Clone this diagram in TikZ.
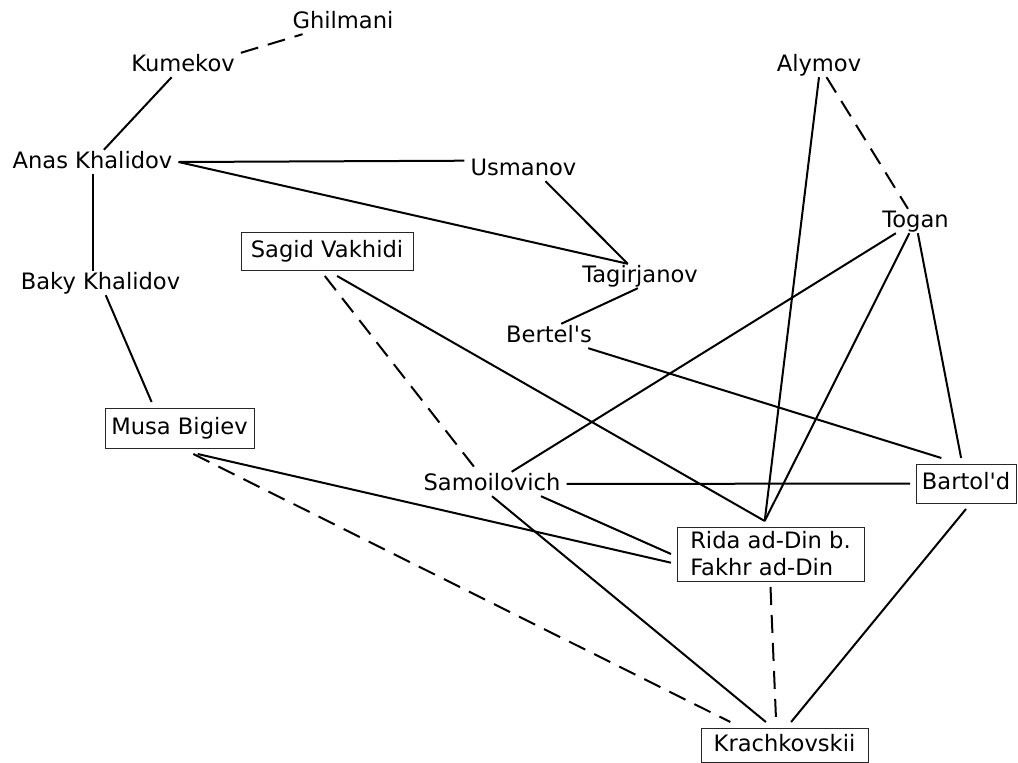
\documentclass[tikz,border=0pt]{standalone}
\usepackage{fontspec}
\setmainfont{DejaVu Sans}[Ligatures=TeXOff]
\usepackage{tikz}

\begin{document}
\begin{tikzpicture}[
        x=1pt, y=-1pt,
        person/.style={inner xsep=6pt, inner ysep=2pt, text height=16pt, text depth=4pt,
                       font=\fontsize{22.6}{27}\selectfont},
        boxed/.style={draw=black!85, line width=0.9pt, inner sep=0pt, outer sep=6pt,
                      font=\fontsize{22.6}{27}\selectfont},
        link/.style={line width=2pt},
        dlink/.style={link, dash pattern=on 18pt off 10pt}
    ]
        \useasboundingbox (0,0) rectangle (1018,763);
        \node[person] (ghilmani) at (343,22) {Ghilmani};
        \node[person] (kumekov) at (183,65) {Kumekov};
        \node[person] (alymov) at (819,65) {Alymov};
        \node[person] (anas) at (92.5,162) {Anas Khalidov};
        \node[person] (usmanov) at (523.5,169) {Usmanov};
        \node[person] (togan) at (915.5,221) {Togan};
        \node[person, boxed, minimum width=172pt, minimum height=38pt] (sagid) at (327,251) {Sagid Vakhidi};
        \node[person] (tagirjanov) at (640,276) {Tagirjanov};
        \node[person] (baky) at (100.5,283) {Baky Khalidov};
        \node[person] (bertels) at (549,336) {Bertel's};
        \node[person, boxed, minimum width=149pt, minimum height=40pt] (musa) at (179.5,428) {Musa Bigiev};
        \node[person] (samoilovich) at (492,484) {Samoilovich};
        \node[person, boxed, minimum width=100pt, minimum height=39pt] (bartold) at (966,483.5) {Bartol'd};
        \node[boxed, align=left, minimum width=187pt, minimum height=54pt] (rida) at (770.5,554) {Rida ad-Din b.\\Fakhr ad-Din};
        \node[person, boxed, minimum width=167pt, minimum height=34pt] (krach) at (784.5,745) {Krachkovskii};
        \draw[dlink] (kumekov.north east) -- (ghilmani);
        \draw[link] (kumekov) -- (anas);
        \draw[link] (anas.east) -- (usmanov.172);
        \draw[link] (anas.east) -- (tagirjanov.135);
        \draw[link] (usmanov.-29) -- (tagirjanov.135);
        \draw[link] (anas.south) -- (anas.south |- baky.north);
        \draw[link] (baky) -- (musa.137);
        \draw[link] (tagirjanov.-100) -- (bertels.45);
        \draw[dlink] (alymov) -- (togan);
        \draw[link] (alymov.south) -- (rida.100);
        \draw[link] (togan) -- (samoilovich);
        \draw[link] (togan) -- (rida.100);
        \draw[link] (togan) -- (bartold);
        \draw[link] (bertels) -- (bartold.134);
        \draw[dlink] (sagid.265) -- (samoilovich.139);
        \draw[link] (sagid.292) -- (rida.100);
        \draw[link] (samoilovich) -- (bartold);
        \draw[link] (samoilovich.-14) -- (rida.west);
        \draw[link] (samoilovich.south) -- (krach.129);
        \draw[link] (musa.-55) -- (rida.185);
        \draw[dlink] (musa.-62) -- (krach.157);
        \draw[dlink] (rida.south) -- (krach.110);
        \draw[link] (bartold.south) -- (krach.74);
    \end{tikzpicture}
\end{document}
